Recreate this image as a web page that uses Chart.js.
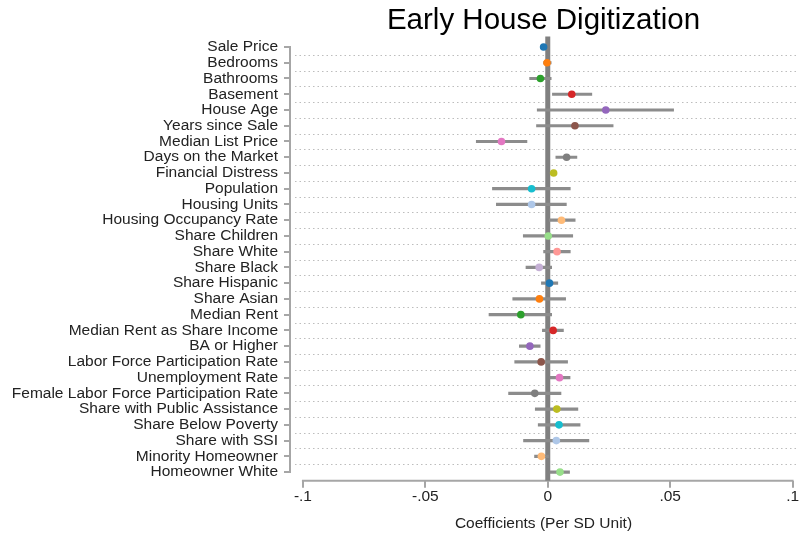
<!DOCTYPE html>
<html>
<head>
<meta charset="utf-8">
<script src="https://cdn.jsdelivr.net/npm/chart.js@4"></script>
<style>
  body { margin: 0; background: #fff; }
</style>
</head>
<body>
<canvas id="myChart" width="801" height="540"></canvas>
<script>
// datos del grafico
const categories = [
  'Sale Price', 'Bedrooms', 'Bathrooms', 'Basement', 'House Age', 'Years since Sale',
  'Median List Price', 'Days on the Market', 'Financial Distress', 'Population',
  'Housing Units', 'Housing Occupancy Rate', 'Share Children', 'Share White',
  'Share Black', 'Share Hispanic', 'Share Asian', 'Median Rent',
  'Median Rent as Share Income', 'BA or Higher', 'Labor Force Participation Rate',
  'Unemployment Rate', 'Female Labor Force Participation Rate',
  'Share with Public Assistance', 'Share Below Poverty', 'Share with SSI',
  'Minority Homeowner', 'Homeowner White'
];
const estimates = [
  -0.0017, -0.0003, -0.0030, 0.0098, 0.0237, 0.0111, -0.0189, 0.0077, 0.0024, -0.0066,
  -0.0066, 0.0056, 0.0002, 0.0038, -0.0035, 0.0007, -0.0034, -0.0110,
  0.0022, -0.0073, -0.0027, 0.0048, -0.0053, 0.0037, 0.0046, 0.0035, -0.0026, 0.0050
];
const lower = [
  -0.0025, -0.0017, -0.0074, 0.0019, -0.0043, -0.0046, -0.0292, 0.0033, 0.0016, -0.0226,
  -0.0210, 0.0006, -0.0100, -0.0017, -0.0089, -0.0026, -0.0143, -0.0240,
  -0.0022, -0.0116, -0.0135, 0.0010, -0.0160, -0.0051, -0.0039, -0.0099, -0.0054, 0.0010
];
const upper = [
  -0.0009, 0.0014, 0.0014, 0.0180, 0.0514, 0.0267, -0.0085, 0.0119, 0.0032, 0.0092,
  0.0076, 0.0112, 0.0102, 0.0092, 0.0016, 0.0041, 0.0073, 0.0016,
  0.0064, -0.0031, 0.0081, 0.0091, 0.0054, 0.0123, 0.0132, 0.0168, 0.0003, 0.0089
];
const xTicks = [-0.1, -0.05, 0, 0.05, 0.1];
const xTickLabels = ['-.1', '-.05', '0', '.05', '.1'];
const palette = [
  '#1f77b4', '#ff7f0e', '#2ca02c', '#d62728', '#9467bd', '#8c564b', '#e377c2',
  '#7f7f7f', '#bcbd22', '#17becf', '#aec7e8', '#ffbb78', '#98df8a', '#ff9896', '#c5b0d5'
];

const fontFamily = "'Liberation Sans', Arial, sans-serif";

// lineas de referencia, ejes y rejilla punteada
const extras = {
  id: 'extras',
  beforeDatasetsDraw(chart) {
    const ctx = chart.ctx;
    const xs = chart.scales.x;
    const ys = chart.scales.y;
    const area = chart.chartArea;
    ctx.save();
    // rejilla punteada entre categorias
    ctx.strokeStyle = '#bdbdbd';
    ctx.lineWidth = 1;
    ctx.setLineDash([1.5, 3]);
    for (let i = 0; i < categories.length - 1; i++) {
      const y = Math.round(ys.getPixelForValue(i + 0.5)) + 0.5;
      ctx.beginPath();
      ctx.moveTo(area.left + 5, y);
      ctx.lineTo(area.right, y);
      ctx.stroke();
    }
    ctx.setLineDash([]);
    // eje y
    ctx.strokeStyle = '#a6a6a6';
    ctx.lineWidth = 2;
    ctx.beginPath();
    ctx.moveTo(area.left, ys.getPixelForValue(0) - 1);
    ctx.lineTo(area.left, ys.getPixelForValue(categories.length - 1) + 1);
    ctx.stroke();
    // eje x
    ctx.beginPath();
    ctx.moveTo(xs.getPixelForValue(xTicks[0]) - 1, area.bottom);
    ctx.lineTo(xs.getPixelForValue(xTicks[xTicks.length - 1]) + 1, area.bottom);
    ctx.stroke();
    // linea en cero
    ctx.strokeStyle = '#808080';
    ctx.lineWidth = 5;
    ctx.beginPath();
    ctx.moveTo(xs.getPixelForValue(0), area.top);
    ctx.lineTo(xs.getPixelForValue(0), area.bottom);
    ctx.stroke();
    ctx.restore();
  }
};

const pointData = categories.map((c, i) => ({ x: estimates[i], y: i }));
const ciData = categories.map((c, i) => ({ x: [lower[i], upper[i]], y: i }));
const pointColors = categories.map((c, i) => palette[i % palette.length]);

const ctx = document.getElementById('myChart').getContext('2d');
const myChart = new Chart(ctx, {
  type: 'bar',
  data: {
    datasets: [
      {
        type: 'scatter',
        data: pointData,
        pointRadius: 3.8,
        pointBorderWidth: 0,
        pointBackgroundColor: pointColors,
        pointBorderColor: pointColors
      },
      {
        type: 'bar',
        data: ciData,
        backgroundColor: '#8c8c8c',
        borderWidth: 0,
        barThickness: 2.5
      }
    ]
  },
  options: {
    indexAxis: 'y',
    responsive: false,
    animation: false,
    devicePixelRatio: 1,
    layout: { padding: { left: 0, right: 1, top: 0, bottom: 0 } },
    plugins: {
      legend: { display: false },
      tooltip: { enabled: false },
      title: {
        display: true,
        text: 'Early House Digitization',
        fullSize: false,
        color: '#000',
        font: { family: fontFamily, size: 29.5, weight: 'normal' },
        padding: { top: 3, bottom: -2 }
      }
    },
    scales: {
      x: {
        type: 'linear',
        min: -0.10528,
        max: 0.1018,
        afterBuildTicks: (scale) => { scale.ticks = xTicks.map(v => ({ value: v })); },
        ticks: {
          callback: (v) => xTickLabels[xTicks.indexOf(v)],
          color: '#222',
          padding: 0,
          maxRotation: 0,
          autoSkip: false,
          font: { family: fontFamily, size: 15.5 }
        },
        grid: { drawOnChartArea: false, color: '#a6a6a6', lineWidth: 2, tickLength: 7 },
        border: { display: false },
        title: {
          display: true,
          text: 'Coefficients (Per SD Unit)',
          color: '#222',
          font: { family: fontFamily, size: 15.5 },
          padding: { top: 8, bottom: 7 }
        }
      },
      y: {
        type: 'linear',
        reverse: true,
        offset: false,
        min: -0.673,
        max: 27.553,
        afterBuildTicks: (scale) => { scale.ticks = categories.map((c, i) => ({ value: i })); },
        afterFit: (scale) => { scale.width = 290; },
        ticks: {
          callback: (v) => categories[v],
          color: '#222',
          padding: 6,
          autoSkip: false,
          font: { family: fontFamily, size: 15.5 }
        },
        grid: { offset: false, drawOnChartArea: false, color: '#a6a6a6', lineWidth: 2, tickLength: 6 },
        border: { display: false }
      }
    }
  },
  plugins: [extras]
});
</script>
</body>
</html>
